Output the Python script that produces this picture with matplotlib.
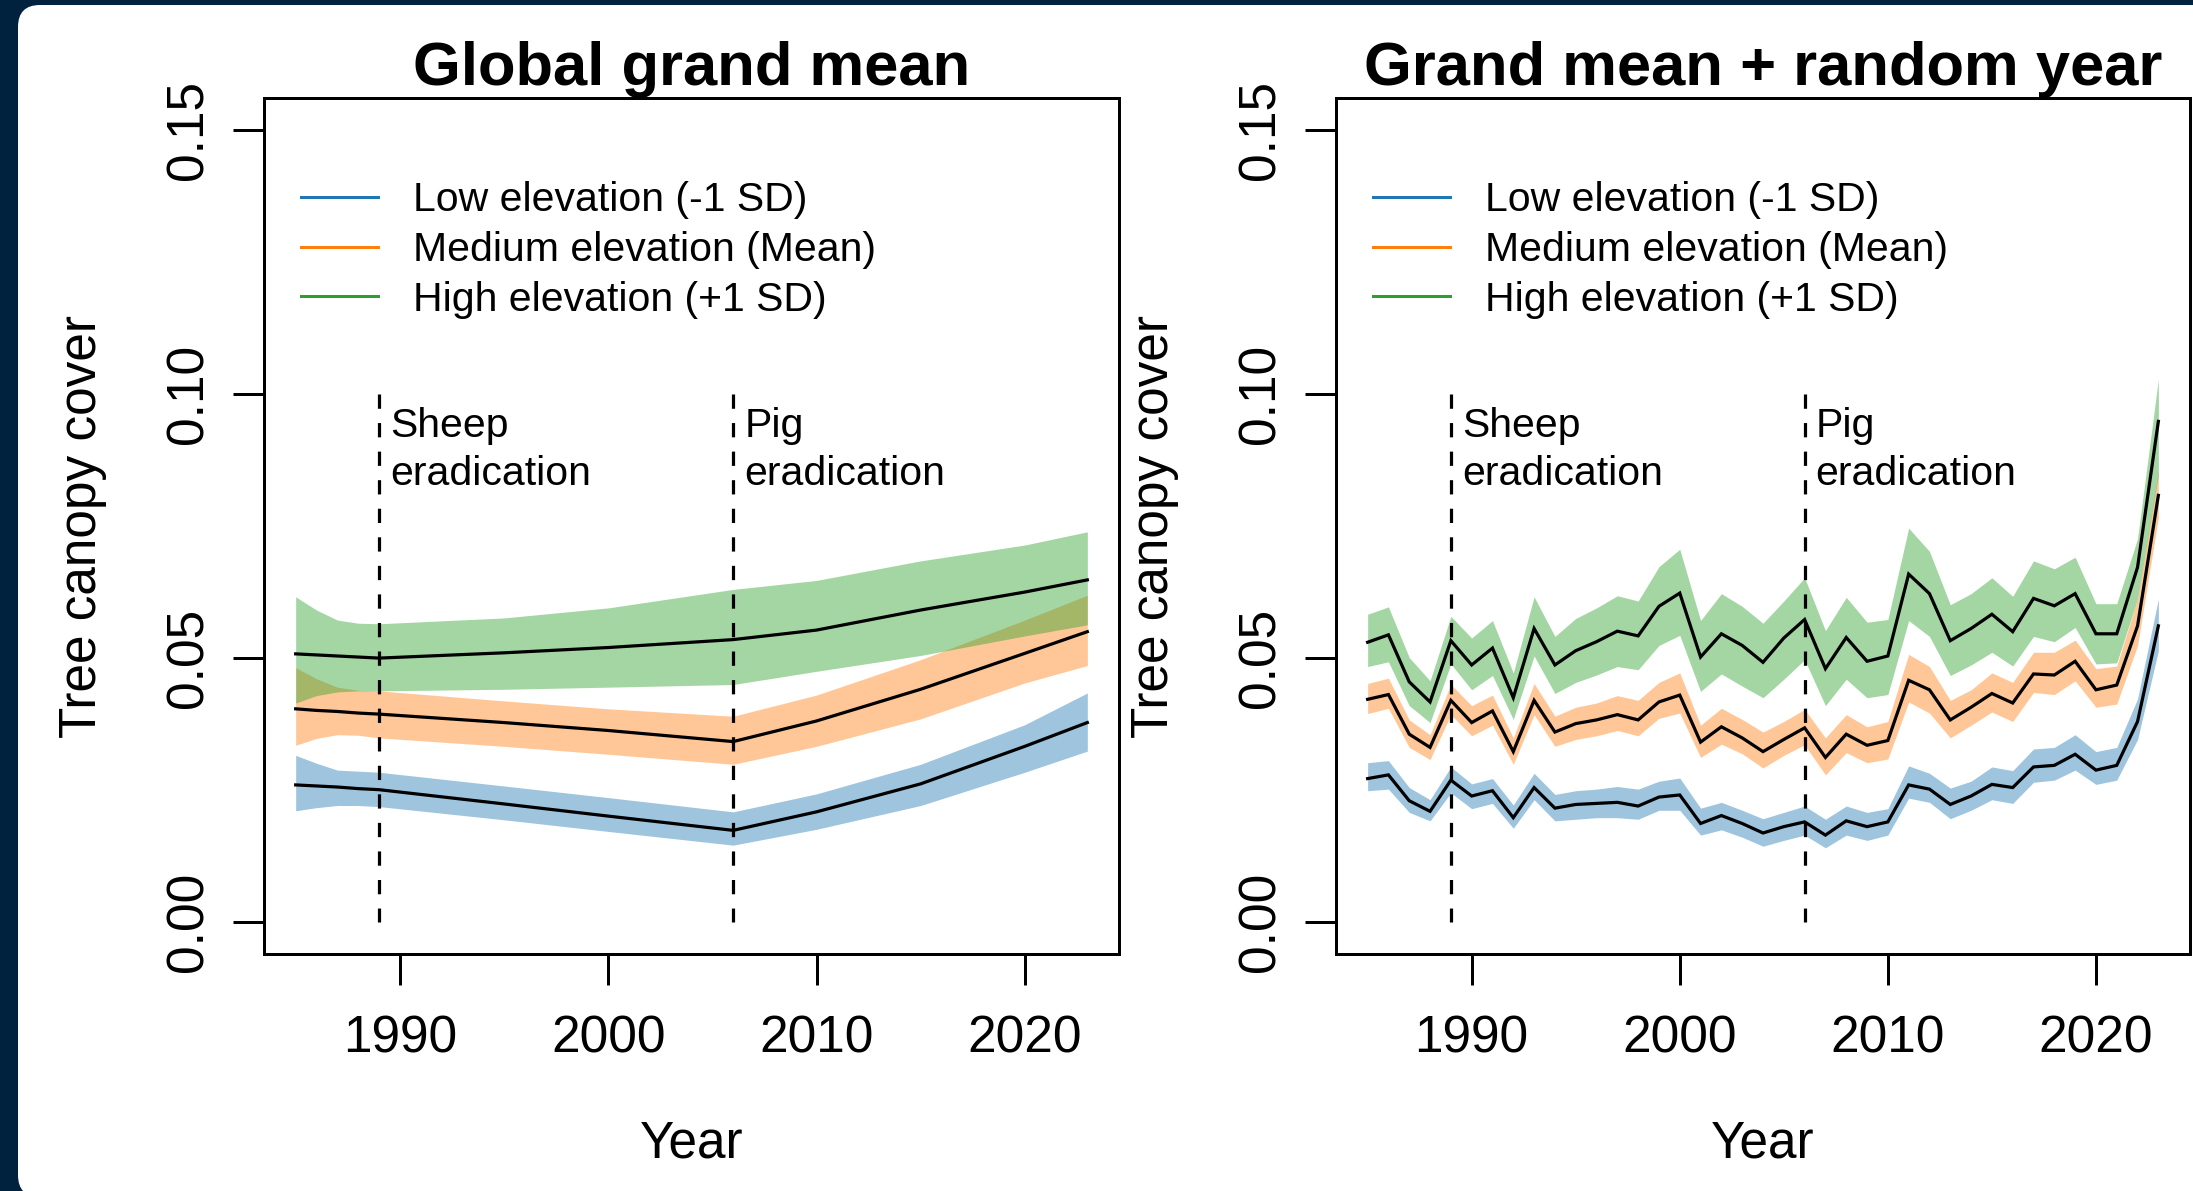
import matplotlib
matplotlib.use("Agg")
import matplotlib.pyplot as plt
from matplotlib.lines import Line2D
from matplotlib.patches import FancyBboxPatch
from matplotlib.transforms import IdentityTransform

plt.rcParams['font.family'] = ['Liberation Sans', 'DejaVu Sans']

# ---------------- data ----------------
series_labels = ["Low elevation (-1 SD)", "Medium elevation (Mean)", "High elevation (+1 SD)"]
series_colors = ["#1f77b4", "#ff7f0e", "#2ca02c"]
event_years = [1989, 2006]
event_labels = ["Sheep\neradication", "Pig\neradication"]
titles = ["Global grand mean", "Grand mean + random year"]
x_ticks = [1990, 2000, 2010, 2020]
y_ticks = [0.00, 0.05, 0.10, 0.15]
y_tick_labels = ["0.00", "0.05", "0.10", "0.15"]

# Left panel: global grand mean (smooth trend)
gm_years = [1985, 1986, 1987, 1988, 1989, 1995, 2000, 2006, 2010, 2015, 2020, 2023]
gm_low_mean = [0.0260, 0.0258, 0.0256, 0.0253, 0.0251, 0.0224, 0.0201, 0.0174, 0.0209, 0.0262, 0.0333, 0.0378]
gm_low_lo   = [0.0211, 0.0217, 0.0221, 0.0221, 0.0219, 0.0194, 0.0172, 0.0146, 0.0176, 0.0221, 0.0284, 0.0324]
gm_low_hi   = [0.0316, 0.0301, 0.0288, 0.0286, 0.0284, 0.0258, 0.0236, 0.0209, 0.0243, 0.0299, 0.0374, 0.0434]
gm_med_mean = [0.0404, 0.0401, 0.0399, 0.0396, 0.0394, 0.0378, 0.0363, 0.0342, 0.0381, 0.0441, 0.0509, 0.0550]
gm_med_lo   = [0.0335, 0.0348, 0.0355, 0.0354, 0.0349, 0.0333, 0.0318, 0.0299, 0.0333, 0.0385, 0.0453, 0.0486]
gm_med_hi   = [0.0482, 0.0461, 0.0445, 0.0439, 0.0438, 0.0419, 0.0404, 0.0390, 0.0430, 0.0497, 0.0572, 0.0619]
gm_high_mean = [0.0508, 0.0506, 0.0504, 0.0502, 0.0500, 0.0510, 0.0520, 0.0535, 0.0553, 0.0591, 0.0625, 0.0648]
gm_high_lo   = [0.0415, 0.0429, 0.0436, 0.0438, 0.0438, 0.0441, 0.0445, 0.0450, 0.0475, 0.0505, 0.0542, 0.0563]
gm_high_hi   = [0.0616, 0.0591, 0.0572, 0.0566, 0.0565, 0.0576, 0.0595, 0.0630, 0.0647, 0.0684, 0.0714, 0.0739]

# Right panel: grand mean + random year (one value per year)
ry_years = list(range(1985, 2024))
ry_low_mean = [0.0272, 0.0279, 0.0230, 0.0210, 0.0269, 0.0239, 0.0249, 0.0198, 0.0255, 0.0216,
               0.0223, 0.0225, 0.0227, 0.0220, 0.0237, 0.0241, 0.0187, 0.0202, 0.0187, 0.0169,
               0.0181, 0.0190, 0.0165, 0.0192, 0.0181, 0.0190, 0.0260, 0.0252, 0.0223, 0.0239,
               0.0261, 0.0255, 0.0294, 0.0297, 0.0318, 0.0288, 0.0297, 0.0380, 0.0561]
ry_low_hi = [0.0302, 0.0306, 0.0255, 0.0232, 0.0294, 0.0262, 0.0272, 0.0222, 0.0282, 0.0242,
             0.0249, 0.0252, 0.0257, 0.0252, 0.0267, 0.0273, 0.0216, 0.0227, 0.0212, 0.0196,
             0.0208, 0.0220, 0.0195, 0.0220, 0.0208, 0.0215, 0.0296, 0.0282, 0.0254, 0.0267,
             0.0294, 0.0287, 0.0328, 0.0331, 0.0355, 0.0323, 0.0331, 0.0423, 0.0612]
ry_low_lo = [0.0249, 0.0252, 0.0208, 0.0192, 0.0245, 0.0215, 0.0225, 0.0178, 0.0232, 0.0192,
             0.0195, 0.0198, 0.0198, 0.0195, 0.0212, 0.0212, 0.0165, 0.0175, 0.0161, 0.0144,
             0.0155, 0.0165, 0.0141, 0.0165, 0.0155, 0.0165, 0.0235, 0.0227, 0.0196, 0.0212,
             0.0232, 0.0225, 0.0265, 0.0269, 0.0288, 0.0261, 0.0269, 0.0346, 0.0514]
ry_med_mean = [0.0422, 0.0431, 0.0356, 0.0331, 0.0420, 0.0378, 0.0400, 0.0323, 0.0420, 0.0360,
               0.0376, 0.0383, 0.0393, 0.0383, 0.0417, 0.0430, 0.0341, 0.0370, 0.0349, 0.0323,
               0.0346, 0.0368, 0.0312, 0.0356, 0.0335, 0.0344, 0.0458, 0.0440, 0.0383, 0.0407,
               0.0433, 0.0415, 0.0470, 0.0468, 0.0494, 0.0440, 0.0449, 0.0561, 0.0808]
ry_med_hi = [0.0452, 0.0462, 0.0383, 0.0355, 0.0450, 0.0410, 0.0430, 0.0349, 0.0452, 0.0390,
             0.0407, 0.0415, 0.0429, 0.0420, 0.0454, 0.0472, 0.0373, 0.0405, 0.0384, 0.0360,
             0.0380, 0.0403, 0.0349, 0.0393, 0.0370, 0.0380, 0.0507, 0.0484, 0.0420, 0.0440,
             0.0472, 0.0454, 0.0511, 0.0511, 0.0534, 0.0480, 0.0485, 0.0612, 0.0853]
ry_med_lo = [0.0395, 0.0405, 0.0331, 0.0308, 0.0393, 0.0353, 0.0373, 0.0299, 0.0393, 0.0333,
             0.0346, 0.0353, 0.0363, 0.0353, 0.0386, 0.0396, 0.0312, 0.0337, 0.0319, 0.0292,
             0.0316, 0.0336, 0.0279, 0.0321, 0.0302, 0.0309, 0.0417, 0.0396, 0.0349, 0.0373,
             0.0398, 0.0380, 0.0435, 0.0431, 0.0457, 0.0407, 0.0413, 0.0524, 0.0766]
ry_high_mean = [0.0530, 0.0544, 0.0455, 0.0417, 0.0533, 0.0487, 0.0519, 0.0425, 0.0556, 0.0487,
                0.0514, 0.0531, 0.0551, 0.0542, 0.0598, 0.0623, 0.0502, 0.0546, 0.0524, 0.0492,
                0.0538, 0.0573, 0.0480, 0.0539, 0.0494, 0.0504, 0.0659, 0.0622, 0.0533, 0.0556,
                0.0583, 0.0550, 0.0613, 0.0599, 0.0622, 0.0546, 0.0546, 0.0672, 0.0948]
ry_high_hi = [0.0583, 0.0597, 0.0501, 0.0457, 0.0579, 0.0538, 0.0571, 0.0472, 0.0616, 0.0541,
              0.0575, 0.0595, 0.0618, 0.0608, 0.0673, 0.0706, 0.0571, 0.0622, 0.0598, 0.0566,
              0.0608, 0.0652, 0.0552, 0.0615, 0.0568, 0.0573, 0.0746, 0.0702, 0.0601, 0.0622,
              0.0652, 0.0617, 0.0684, 0.0669, 0.0691, 0.0603, 0.0603, 0.0726, 0.1028]
ry_high_lo = [0.0484, 0.0493, 0.0410, 0.0378, 0.0489, 0.0440, 0.0467, 0.0384, 0.0504, 0.0433,
              0.0454, 0.0468, 0.0484, 0.0478, 0.0524, 0.0543, 0.0437, 0.0470, 0.0447, 0.0425,
              0.0460, 0.0497, 0.0410, 0.0460, 0.0425, 0.0431, 0.0571, 0.0541, 0.0467, 0.0487,
              0.0511, 0.0485, 0.0541, 0.0531, 0.0558, 0.0489, 0.0491, 0.0612, 0.0847]

panels = [
    (gm_years, [(gm_low_mean, gm_low_lo, gm_low_hi),
                (gm_med_mean, gm_med_lo, gm_med_hi),
                (gm_high_mean, gm_high_lo, gm_high_hi)]),
    (ry_years, [(ry_low_mean, ry_low_lo, ry_low_hi),
                (ry_med_mean, ry_med_lo, ry_med_hi),
                (ry_high_mean, ry_high_lo, ry_high_hi)]),
]

# ---------------- figure ----------------
W, H, DPI = 2193, 1191, 100
fig = plt.figure(figsize=(W / DPI, H / DPI), dpi=DPI, facecolor="#01223E")

# white rounded card
card = FancyBboxPatch((18, -6), W + 40, H - 5 + 6, boxstyle="round,pad=0,rounding_size=22",
                      transform=IdentityTransform(), facecolor="white", edgecolor="none",
                      zorder=-10)
fig.patches.append(card)

LW = 2.3
TICK_FS = 37
SMALL_FS = 29.5
axes_rects = [[264 / W, 1 - 954 / H, 855 / W, 856 / H],
              [1336 / W, 1 - 954 / H, 854 / W, 856 / H]]

for i, (years, groups) in enumerate(panels):
    ax = fig.add_axes(axes_rects[i], zorder=1)
    ax.set_facecolor("white")
    for (mean, lo, hi), col in zip(groups, series_colors):
        ax.fill_between(years, lo, hi, color=col, alpha=0.43, linewidth=0, zorder=2)
    for (mean, lo, hi) in groups:
        ax.plot(years, mean, color="black", lw=LW, zorder=4, solid_joinstyle="miter")

    # dashed markers drawn from the top (0.10) down to 0
    ax.vlines(event_years, 0.10, 0.0, colors="black", lw=LW,
              linestyles=[(0, (4.47, 4.47))], zorder=5)
    for ey, lab in zip(event_years, event_labels):
        ax.annotate(lab, xy=(ey, 0.0975), xytext=(8, 0), textcoords="offset points",
                    ha="left", va="top", fontsize=SMALL_FS, linespacing=1.33, zorder=6)

    ax.set_xlim(1983.48, 2024.52)
    ax.set_ylim(-0.006, 0.156)
    ax.set_xticks(x_ticks)
    ax.set_xticklabels([str(t) for t in x_ticks])
    ax.set_yticks(y_ticks)
    ax.set_yticklabels(y_tick_labels)
    for lbl in ax.get_yticklabels():
        lbl.set_rotation(90)
        lbl.set_va("center")
    ax.tick_params(axis="both", direction="out", length=22.3, width=2.16,
                   labelsize=TICK_FS, color="black")
    ax.tick_params(axis="x", pad=21.5)
    ax.tick_params(axis="y", pad=14)
    for sp in ax.spines.values():
        sp.set_linewidth(2.16)
        sp.set_color("black")

    ax.set_xlabel("Year", fontsize=TICK_FS)
    ax.xaxis.set_label_coords(0.5, -0.193)
    ax.set_ylabel("Tree canopy cover", fontsize=TICK_FS)
    ax.yaxis.set_label_coords(-0.184, 0.5)
    ax.set_title(titles[i], fontsize=44.3, fontweight="bold", pad=0.0)

    handles = [Line2D([], [], color=c, lw=2.16) for c in series_colors]
    ax.legend(handles, series_labels, loc="upper left", bbox_to_anchor=(0.0433, 0.903),
              frameon=False, fontsize=SMALL_FS, handlelength=1.88, handletextpad=0.85,
              labelspacing=0.29, borderpad=0, borderaxespad=0)

fig.savefig("out.png", dpi=DPI, facecolor=fig.get_facecolor())
